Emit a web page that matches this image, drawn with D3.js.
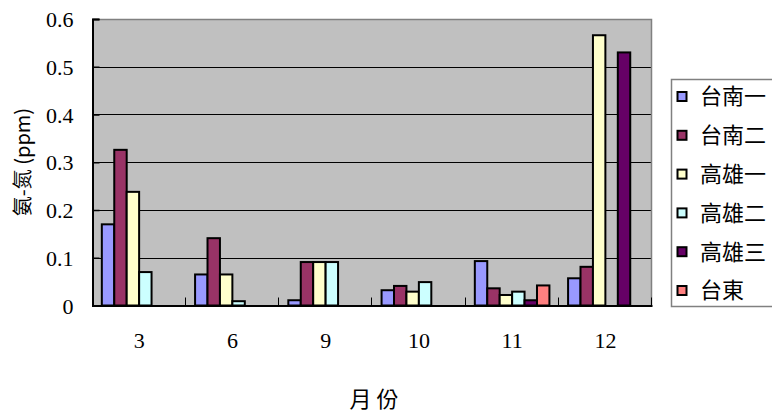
<!DOCTYPE html>
<html>
<head>
<meta charset="utf-8">
<script src="https://cdn.jsdelivr.net/npm/d3@7"></script>
<style>
  html, body { margin: 0; padding: 0; background: #fff; }
  svg { display: block; }
</style>
</head>
<body>
<svg id="chart" width="772" height="416"></svg>
<script>
// Months on the category axis
const months = ["3", "6", "9", "10", "11", "12"];
// Monitoring stations (series)
const stations = ["台南一", "台南二", "高雄一", "高雄二", "高雄三", "台東"];
const stationColors = ["#9999FF", "#993366", "#FFFFCC", "#CCFFFF", "#660066", "#FF8080"];
// Ammonia-nitrogen concentration (ppm) per station, one value per month; null = no sample
const tainan1   = [0.170, 0.065, 0.011, 0.032, 0.093, 0.057];
const tainan2   = [0.326, 0.141, 0.091, 0.041, 0.036, 0.081];
const kaohsiung1 = [0.238, 0.065, 0.091, 0.029, 0.022, 0.566];
const kaohsiung2 = [0.070, 0.009, 0.091, 0.049, 0.029, null];
const kaohsiung3 = [null, null, null, null, 0.011, 0.530];
const taitung   = [null, null, null, null, 0.042, null];
const yTicks = [0, 0.1, 0.2, 0.3, 0.4, 0.5, 0.6];

const seriesValues = [tainan1, tainan2, kaohsiung1, kaohsiung2, kaohsiung3, taitung];

const svg = d3.select("#chart");
const plot = { left: 92.5, right: 652, top: 19, bottom: 305.5 };

const serif = '"Times New Roman", "Liberation Serif", Tinos, "DejaVu Serif", serif';
const cjk = '"Noto Sans CJK TC", "Noto Sans CJK SC", sans-serif';

const x = d3.scaleBand().domain(months).range([plot.left, plot.right]).paddingInner(0).paddingOuter(0);
const xs = d3.scaleBand().domain(stations).range([0, x.bandwidth()]).paddingInner(0).paddingOuter(0.75);
const y = d3.scaleLinear().domain([0, 0.6]).range([plot.bottom, plot.top]);

// Plot background
svg.append("rect")
  .attr("x", plot.left).attr("y", plot.top)
  .attr("width", plot.right - plot.left).attr("height", plot.bottom - plot.top)
  .attr("fill", "#C0C0C0");

// Horizontal gridlines
svg.append("g")
  .selectAll("line")
  .data(yTicks.filter(d => d > 0 && d < 0.6))
  .join("line")
  .attr("x1", plot.left).attr("x2", plot.right)
  .attr("y1", d => Math.round(y(d)) + 0.5).attr("y2", d => Math.round(y(d)) + 0.5)
  .attr("stroke", "#000").attr("stroke-width", 1);

// Top and right frame (grey)
svg.append("path")
  .attr("d", `M${plot.left},${plot.top + 0.5}H${plot.right - 0.5}V${plot.bottom}`)
  .attr("fill", "none").attr("stroke", "#808080").attr("stroke-width", 1.5);

// Bars
const rows = [];
seriesValues.forEach((vals, si) => {
  vals.forEach((v, mi) => {
    if (v != null) rows.push({ station: stations[si], month: months[mi], value: v, color: stationColors[si] });
  });
});

svg.append("g")
  .selectAll("rect")
  .data(rows)
  .join("rect")
  .attr("x", d => x(d.month) + xs(d.station))
  .attr("y", d => y(d.value))
  .attr("width", xs.bandwidth())
  .attr("height", d => y(0) - y(d.value))
  .attr("fill", d => d.color)
  .attr("stroke", "#000")
  .attr("stroke-width", 2);

// Y axis
const yAxis = svg.append("g")
  .attr("transform", `translate(${plot.left},0)`)
  .call(d3.axisLeft(y).tickValues(yTicks).tickSize(-7).tickPadding(19).tickFormat(d => String(+d.toFixed(1))));
yAxis.attr("font-family", serif).attr("font-size", 22);
yAxis.select(".domain").attr("stroke", "#000").attr("stroke-width", 2);
yAxis.selectAll(".tick line").attr("stroke", "#000").attr("stroke-width", 1.5);
yAxis.selectAll(".tick text").attr("fill", "#000").attr("dy", "0.35em");

// X axis
const xAxis = svg.append("g")
  .attr("transform", `translate(0,${plot.bottom})`)
  .call(d3.axisBottom(x).tickSize(0).tickPadding(27));
xAxis.attr("font-family", serif).attr("font-size", 22);
xAxis.select(".domain").attr("stroke", "#000").attr("stroke-width", 2);
xAxis.selectAll(".tick text").attr("fill", "#000");

// Category separator ticks pointing into the plot
svg.append("g")
  .selectAll("line")
  .data(months.slice(1).concat(["end"]))
  .join("line")
  .attr("x1", (d, i) => Math.round(plot.left + x.step() * (i + 1)) - 0.5)
  .attr("x2", (d, i) => Math.round(plot.left + x.step() * (i + 1)) - 0.5)
  .attr("y1", plot.bottom - 8).attr("y2", plot.bottom)
  .attr("stroke", "#000").attr("stroke-width", 1);

// Axis titles
svg.append("text")
  .attr("x", 374).attr("y", 407)
  .attr("text-anchor", "middle")
  .style("font-family", cjk).style("font-size", "22px").attr("fill", "#000")
  .text("月 份");

svg.append("text")
  .attr("transform", `translate(30,162) rotate(-90)`)
  .attr("text-anchor", "middle")
  .style("font-family", cjk).style("font-size", "20px").attr("fill", "#000")
  .text("氨-氮 (ppm)");

// Legend
const legend = svg.append("g");
legend.append("rect")
  .attr("x", 671.5).attr("y", 79.5).attr("width", 120).attr("height", 227)
  .attr("fill", "#fff").attr("stroke", "#808080").attr("stroke-width", 1.5);

const item = legend.selectAll("g.item")
  .data(stations)
  .join("g")
  .attr("class", "item")
  .attr("transform", (d, i) => `translate(0,${96.5 + i * 38.8})`);

item.append("rect")
  .attr("x", 677.5).attr("y", -4.5).attr("width", 9).attr("height", 9)
  .attr("fill", (d, i) => stationColors[i])
  .attr("stroke", "#000").attr("stroke-width", 2);

item.append("text")
  .attr("x", 700).attr("y", 0).attr("dy", "0.36em")
  .style("font-family", cjk).style("font-size", "22px").attr("fill", "#000")
  .text(d => d);
</script>
</body>
</html>
